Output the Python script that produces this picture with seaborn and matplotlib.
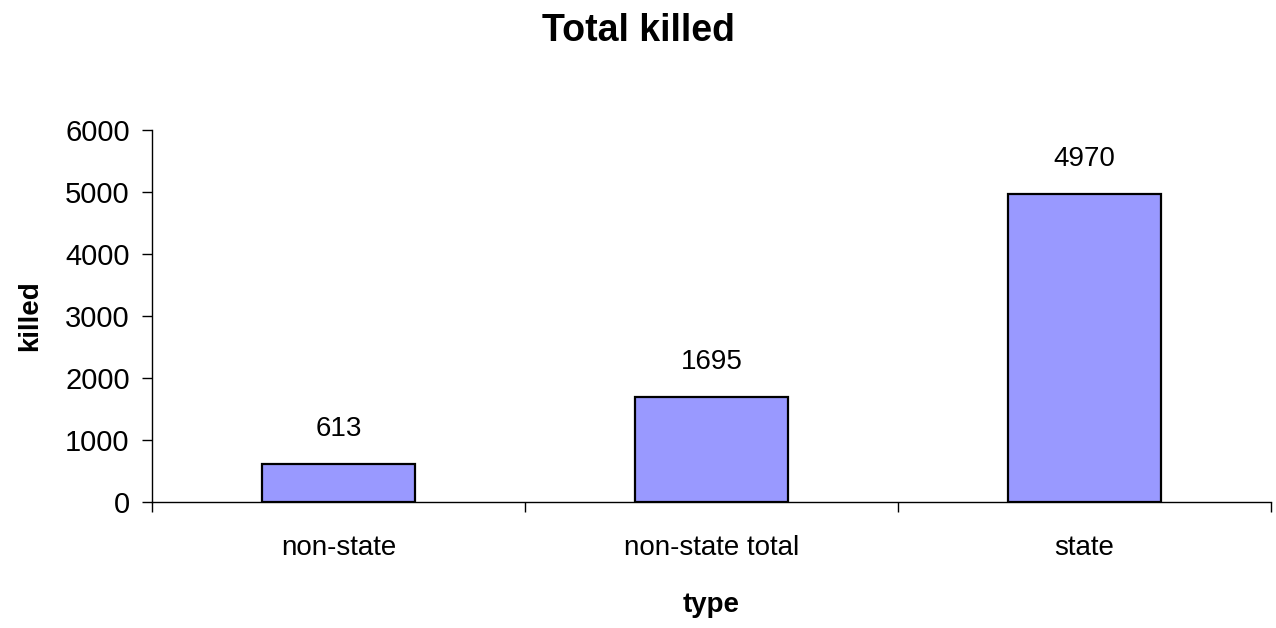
import matplotlib
matplotlib.use("Agg")
import matplotlib.pyplot as plt
import seaborn as sns
import pandas as pd

# chart data
types = ["non-state", "non-state total", "state"]
killed = [613, 1695, 4970]

df = pd.DataFrame({"type": types, "killed": killed})

sns.set_style("white")
plt.rcParams["font.family"] = ["Liberation Sans", "DejaVu Sans"]
plt.rcParams["text.color"] = "black"
plt.rcParams["axes.labelcolor"] = "black"
plt.rcParams["xtick.color"] = "black"
plt.rcParams["ytick.color"] = "black"

fig = plt.figure(figsize=(12.76, 6.28), dpi=100)
ax = fig.add_axes([0.1191, 0.2006, 0.8769, 0.5924])

sns.barplot(data=df, x="type", y="killed", color="#9999FF", saturation=1,
            width=0.41, edgecolor="black", linewidth=1.6, ax=ax)

# value labels above bars
for i, v in enumerate(killed):
    ax.annotate(str(v), (i, v), xytext=(0, 16), textcoords="offset points",
                ha="center", va="bottom", fontsize=20)

ax.set_xlim(-0.5, 2.5)
ax.set_ylim(0, 6000)
ax.set_yticks(range(0, 6001, 1000))

# tick marks between categories, labels under centers
ax.set_xticks([-0.5, 0.5, 1.5, 2.5], minor=True)
ax.tick_params(axis="x", which="major", length=0, pad=24, labelsize=20)
ax.tick_params(axis="x", which="minor", length=7, width=1,
               direction="out", bottom=True)
ax.tick_params(axis="y", length=7, width=1, direction="out",
               left=True, labelsize=21, pad=9)

for s in ["top", "right"]:
    ax.spines[s].set_visible(False)
for s in ["left", "bottom"]:
    ax.spines[s].set_color("black")
    ax.spines[s].set_linewidth(1)

ax.set_xlabel("type", fontsize=20, fontweight="bold", labelpad=22)
ax.set_ylabel("killed", fontsize=20, fontweight="bold", labelpad=16)
fig.suptitle("Total killed", fontsize=27, fontweight="bold", y=0.951, va="center")

fig.savefig("out.png", dpi=100)
